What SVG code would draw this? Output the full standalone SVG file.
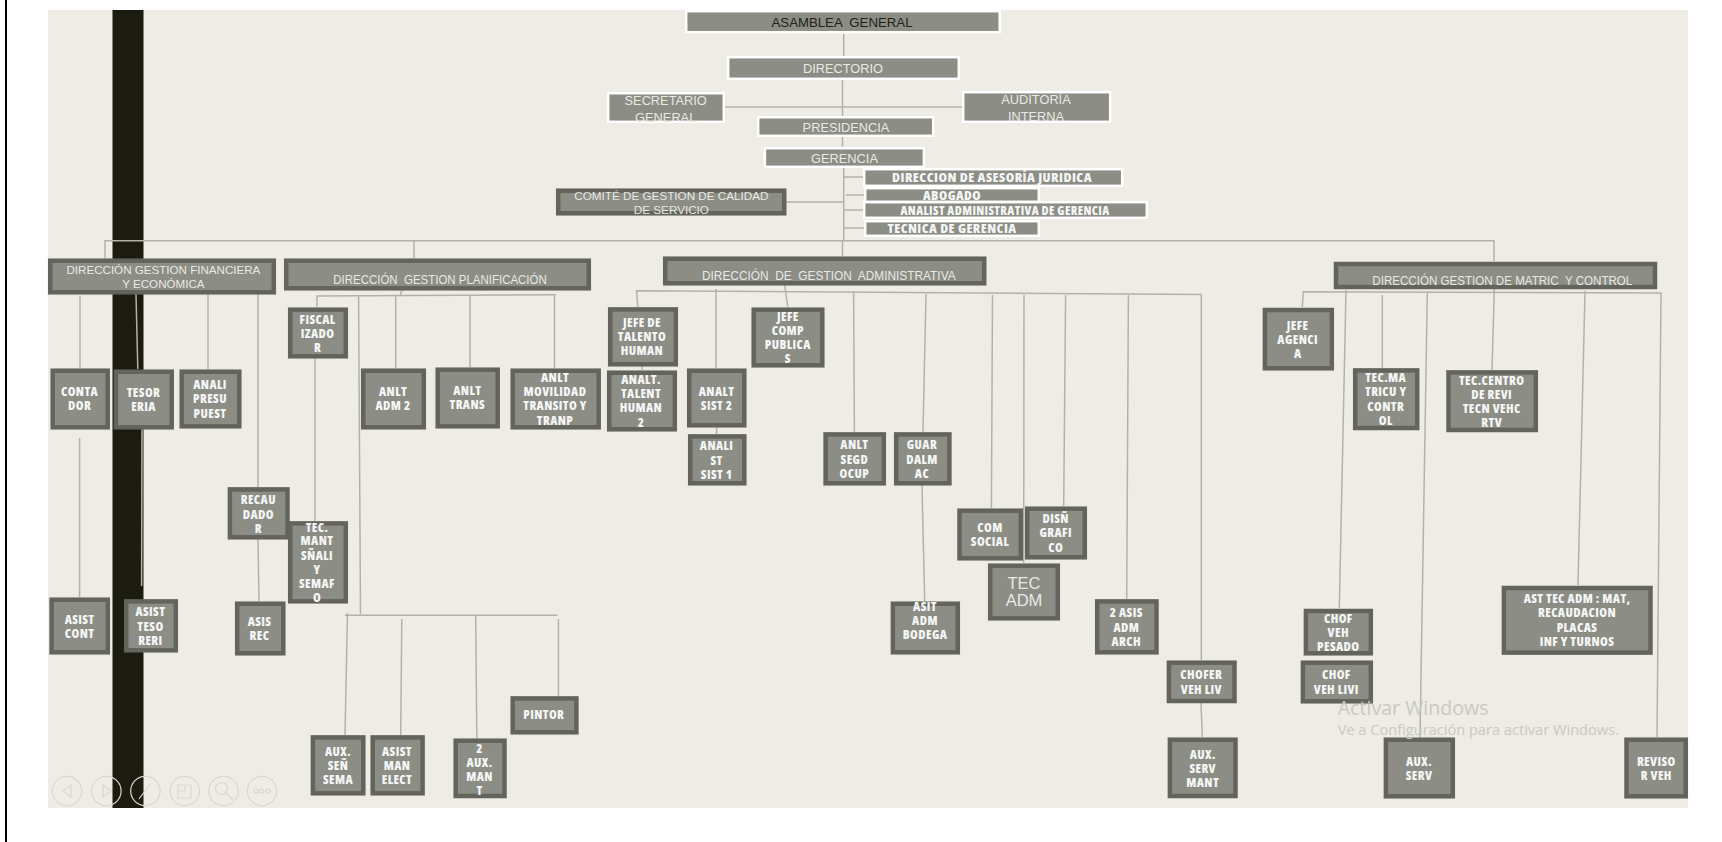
<svg xmlns="http://www.w3.org/2000/svg" width="1722" height="842" viewBox="0 0 1722 842">
<style>
.w{fill:#8c8d84;stroke:#fff;stroke-width:2.5}
.d{fill:#8c8d84;stroke:#63645c;stroke-width:4.5}
text{dominant-baseline:central;text-anchor:middle;white-space:pre}
.l{font-family:"Liberation Sans",Arial,sans-serif;fill:#e9e9e4;font-size:12.8px}
.b{font-family:"Open Sans","Liberation Sans",sans-serif;font-weight:800;font-stretch:75%;fill:#f4f5f5;font-size:12.5px;letter-spacing:.4px}
#conn path{fill:none;stroke:#b2b2aa;stroke-width:1.5}
#ctrl circle,#ctrl path{fill:none;stroke:#d9d8d0;stroke-width:1.2}
.wm{font-family:"Open Sans","Noto Sans",sans-serif;text-anchor:start;fill:#c9c9c3}
</style>
<rect x="5" y="0" width="2" height="842" fill="#000"/>
<rect x="48" y="10" width="1640" height="798" fill="#eeece4"/>
<rect x="112.5" y="10" width="31" height="798" fill="#1b1b0f"/>
<g id="conn">
<path d="M843.7 34V56M842.5 80V116M725 107H962M842.5 137V147M843.7 168V240.7M844 177H863M846 195H864M844 210H863M844 228H864M786 202H844"/>
<path d="M105 258V240.7H1494V261M414 240.7V258M842.5 240.7V256"/>
<path d="M80 296V368M136 294L137.8 369M208 294V369M258 294V487M79.6 438V597M142 429L141.6 586M258 539L259 601"/>
<path d="M402 290L400 296M317 307V296L555.7 294.7M358.6 296L360.5 614M395.7 295V368M470 295V367M554.5 295V368M315 358V521M345 615.3H557.6M347.5 613L345 735M401.8 619L400.7 735M475.7 615L476.8 738M558.4 619V696"/>
<path d="M784.7 285L787.8 307M637.8 307L636.6 290.7L1202 294.5M716 289V368M853.6 291L854.4 432M926 294L923 432M922 485L924.7 601M992.5 295L991.4 508M1024 295L1023.7 563M1065.6 295L1063.7 506M1128.4 294L1126.7 599M1201.3 294V660M1201 703L1202.3 737M642 366V370M716.6 427V434"/>
<path d="M1302.3 307L1303.3 291.7L1661.3 293M1346 290L1339.3 608M1382.3 295V368M1427.3 293L1420 737M1494.3 289L1492 370M1585 291L1578 585M1661 293L1657 737"/>
</g>
<g id="asamblea"><rect class="w" x="686.2" y="11.2" width="313.5" height="21"/><text class="l" x="842" y="22.3" textLength="141" lengthAdjust="spacingAndGlyphs" style="fill:#22221a">ASAMBLEA  GENERAL</text></g>
<g id="directorio"><rect class="w" x="728.2" y="57.2" width="230.6" height="21.6"/><text class="l" x="843" y="68.3">DIRECTORIO</text></g>
<g id="secretario"><rect class="w" x="608.2" y="93.2" width="115.6" height="28.6"/><text class="l"><tspan x="665.7" y="100.3">SECRETARIO</tspan><tspan x="665.7" y="116.7">GENERAL</tspan></text></g>
<g id="auditoria"><rect class="w" x="963.2" y="92.2" width="147" height="29.6"/><text class="l"><tspan x="1036" y="99.3">AUDITORÍA</tspan><tspan x="1036" y="115.7">INTERNA</tspan></text></g>
<g id="presidencia"><rect class="w" x="758.2" y="117.2" width="175" height="18.6"/><text class="l" x="846" y="127">PRESIDENCIA</text></g>
<g id="gerencia"><rect class="w" x="764.9" y="148.2" width="159" height="18.6"/><text class="l" x="844.5" y="158">GERENCIA</text></g>
<g id="asesoria"><rect class="w" x="864.2" y="169.2" width="258" height="16.6"/><text class="b" x="992" y="177.7" textLength="200" lengthAdjust="spacingAndGlyphs">DIRECCION DE ASESORÍA JURIDICA</text></g>
<g id="abogado"><rect class="w" x="865.2" y="188.2" width="173.6" height="13.6"/><text class="b" x="952" y="195.3" textLength="58" lengthAdjust="spacingAndGlyphs">ABOGADO</text></g>
<g id="analist"><rect class="w" x="864.2" y="202.2" width="282.6" height="15.6"/><text class="b" x="1005" y="210" textLength="209" lengthAdjust="spacingAndGlyphs">ANALIST ADMINISTRATIVA DE GERENCIA</text></g>
<g id="tecnica"><rect class="w" x="865.2" y="221.2" width="173.6" height="14.6"/><text class="b" x="952" y="228.3" textLength="129" lengthAdjust="spacingAndGlyphs">TECNICA DE GERENCIA</text></g>
<g id="comite"><rect class="d" x="558.2" y="190.7" width="226" height="22.6"/><text class="l" style="font-size:11.7px"><tspan x="671.4" y="195">COMITÉ DE GESTION DE CALIDAD</tspan><tspan x="671.4" y="209">DE SERVICIO</tspan></text></g>
<g id="dir-fin"><rect class="d" x="50.2" y="260.7" width="223.6" height="31.6"/><text class="l" style="font-size:11.6px"><tspan x="163.4" y="268.7">DIRECCIÓN GESTION FINANCIERA</tspan><tspan x="163.4" y="283">Y ECONÓMICA</tspan></text></g>
<g id="dir-plan"><rect class="d" x="286.2" y="260.7" width="302.6" height="27.6"/><text class="l" x="440" y="279" textLength="213.5" lengthAdjust="spacingAndGlyphs">DIRECCIÓN  GESTION PLANIFICACIÓN</text></g>
<g id="dir-adm"><rect class="d" x="665.2" y="258.7" width="319" height="24.6"/><text class="l" x="828.8" y="275.7" textLength="253.7" lengthAdjust="spacingAndGlyphs">DIRECCIÓN  DE  GESTION  ADMINISTRATIVA</text></g>
<g id="dir-mat"><rect class="d" x="1336" y="264" width="319" height="23"/><text class="l" x="1502.3" y="280" textLength="260" lengthAdjust="spacingAndGlyphs">DIRECCIÓN GESTION DE MATRIC  Y CONTROL</text></g>
<g id="contador"><rect class="d" x="52.7" y="370.7" width="55" height="56.6"/><text class="b"><tspan x="79.6" y="391.3">CONTA</tspan><tspan x="79.6" y="405.3">DOR</tspan></text></g>
<g id="tesoreria"><rect class="d" x="115.9" y="371.7" width="55.8" height="55.6"/><text class="b"><tspan x="143.5" y="392">TESOR</tspan><tspan x="143.5" y="406">ERIA</tspan></text></g>
<g id="anali-presu"><rect class="d" x="181.7" y="371.7" width="57.6" height="54.6"/><text class="b"><tspan x="210" y="384">ANALI</tspan><tspan x="210" y="398">PRESU</tspan><tspan x="210" y="412.7">PUEST</tspan></text></g>
<g id="fiscalizador"><rect class="d" x="290.2" y="309.7" width="55.6" height="46.6"/><text class="b"><tspan x="317.6" y="318.7">FISCAL</tspan><tspan x="317.6" y="333">IZADO</tspan><tspan x="317.6" y="347">R</tspan></text></g>
<g id="anlt-adm2"><rect class="d" x="363.2" y="370.7" width="60.6" height="56.6"/><text class="b"><tspan x="393" y="391">ANLT</tspan><tspan x="393" y="405.3">ADM 2</tspan></text></g>
<g id="anlt-trans"><rect class="d" x="437.7" y="369.7" width="60" height="56.6"/><text class="b"><tspan x="467.3" y="390.3">ANLT</tspan><tspan x="467.3" y="404.3">TRANS</tspan></text></g>
<g id="anlt-mov"><rect class="d" x="512.7" y="370.7" width="86" height="56.6"/><text class="b"><tspan x="555" y="377">ANLT</tspan><tspan x="555" y="391">MOVILIDAD</tspan><tspan x="555" y="405">TRANSITO Y</tspan><tspan x="555" y="419.7">TRANP</tspan></text></g>
<g id="recaudador"><rect class="d" x="229.9" y="489.4" width="57.6" height="47.9"/><text class="b"><tspan x="258.3" y="499.3">RECAU</tspan><tspan x="258.3" y="513.7">DADO</tspan><tspan x="258.3" y="528">R</tspan></text></g>
<g id="tec-mant"><rect class="d" x="290.2" y="523.4" width="55.6" height="77.9"/><text class="b"><tspan x="317" y="526.7">TEC.</tspan><tspan x="317" y="540.3">MANT</tspan><tspan x="317" y="554.7">SÑALI</tspan><tspan x="317" y="569">Y</tspan><tspan x="317" y="583">SEMAF</tspan><tspan x="317" y="597">O</tspan></text></g>
<g id="asist-cont"><rect class="d" x="51.6" y="599.7" width="56.2" height="52.6"/><text class="b"><tspan x="79.6" y="618.7">ASIST</tspan><tspan x="79.6" y="632.7">CONT</tspan></text></g>
<g id="asist-teso"><rect class="d" x="126.2" y="601.4" width="49.6" height="48.9"/><text class="b"><tspan x="150.4" y="611.3">ASIST</tspan><tspan x="150.4" y="625.7">TESO</tspan><tspan x="150.4" y="640">RERI</tspan></text></g>
<g id="asis-rec"><rect class="d" x="237.2" y="603.7" width="46.1" height="49.6"/><text class="b"><tspan x="259.5" y="621">ASIS</tspan><tspan x="259.5" y="635">REC</tspan></text></g>
<g id="aux-sen"><rect class="d" x="312.9" y="737.4" width="50.4" height="55.9"/><text class="b"><tspan x="338" y="751">AUX.</tspan><tspan x="338" y="765">SEÑ</tspan><tspan x="338" y="779">SEMA</tspan></text></g>
<g id="asist-man"><rect class="d" x="372.7" y="737.4" width="49.9" height="55.9"/><text class="b"><tspan x="397" y="751">ASIST</tspan><tspan x="397" y="765">MAN</tspan><tspan x="397" y="779">ELECT</tspan></text></g>
<g id="aux-man"><rect class="d" x="455.7" y="740.7" width="48.8" height="55.3"/><text class="b"><tspan x="479.5" y="747.7">2</tspan><tspan x="479.5" y="762">AUX.</tspan><tspan x="479.5" y="776">MAN</tspan><tspan x="479.5" y="790">T</tspan></text></g>
<g id="pintor"><rect class="d" x="512.7" y="698.4" width="63.7" height="33.9"/><text class="b" x="543.8" y="714.3">PINTOR</text></g>
<g id="jefe-talento"><rect class="d" x="610.2" y="309.4" width="65.6" height="54.9"/><text class="b"><tspan x="642" y="322">JEFE DE</tspan><tspan x="642" y="336">TALENTO</tspan><tspan x="642" y="350.3">HUMAN</tspan></text></g>
<g id="analt-talent"><rect class="d" x="609.2" y="372.7" width="65.6" height="56.6"/><text class="b"><tspan x="641" y="379">ANALT.</tspan><tspan x="641" y="393">TALENT</tspan><tspan x="641" y="407.3">HUMAN</tspan><tspan x="641" y="421.7">2</tspan></text></g>
<g id="analt-sist2"><rect class="d" x="689.2" y="370.7" width="55.1" height="54.6"/><text class="b"><tspan x="716.6" y="391.3">ANALT</tspan><tspan x="716.6" y="405.3">SIST 2</tspan></text></g>
<g id="analist-sist1"><rect class="d" x="690.2" y="436.4" width="54.1" height="46.9"/><text class="b"><tspan x="716.6" y="445.3">ANALI</tspan><tspan x="716.6" y="459.7">ST</tspan><tspan x="716.6" y="474">SIST 1</tspan></text></g>
<g id="jefe-comp"><rect class="d" x="753.7" y="309.7" width="68.6" height="55.6"/><text class="b"><tspan x="787.8" y="315.7">JEFE</tspan><tspan x="787.8" y="330">COMP</tspan><tspan x="787.8" y="344">PUBLICA</tspan><tspan x="787.8" y="358.3">S</tspan></text></g>
<g id="anlt-segd"><rect class="d" x="825.6" y="434.4" width="58.2" height="48.9"/><text class="b"><tspan x="854.4" y="444.3">ANLT</tspan><tspan x="854.4" y="458.7">SEGD</tspan><tspan x="854.4" y="473">OCUP</tspan></text></g>
<g id="guardalmac"><rect class="d" x="896.2" y="434.4" width="53.2" height="48.9"/><text class="b"><tspan x="922" y="444.3">GUAR</tspan><tspan x="922" y="458.7">DALM</tspan><tspan x="922" y="473">AC</tspan></text></g>
<g id="com-social"><rect class="d" x="959.5" y="510.7" width="61.3" height="47.6"/><text class="b"><tspan x="990" y="527">COM</tspan><tspan x="990" y="541">SOCIAL</tspan></text></g>
<g id="disn-grafico"><rect class="d" x="1027.2" y="508.7" width="57.6" height="48.6"/><text class="b"><tspan x="1055.7" y="518">DISÑ</tspan><tspan x="1055.7" y="532.3">GRAFI</tspan><tspan x="1055.7" y="546.7">CO</tspan></text></g>
<g id="tec-adm"><rect class="d" x="990.2" y="565.7" width="67.6" height="52.6"/><text class="l" style="font-size:16.5px"><tspan x="1024" y="582.7">TEC</tspan><tspan x="1024" y="600.3">ADM</tspan></text></g>
<g id="asit-bodega"><rect class="d" x="892.9" y="603.7" width="64.9" height="48.6"/><text class="b"><tspan x="925" y="606">ASIT</tspan><tspan x="925" y="620.3">ADM</tspan><tspan x="925" y="634.3">BODEGA</tspan></text></g>
<g id="asis-arch"><rect class="d" x="1097.2" y="601.4" width="59.3" height="50.9"/><text class="b"><tspan x="1126.3" y="612.3">2 ASIS</tspan><tspan x="1126.3" y="626.7">ADM</tspan><tspan x="1126.3" y="641">ARCH</tspan></text></g>
<g id="chofer-liv"><rect class="d" x="1168.9" y="662.7" width="65.6" height="38.3"/><text class="b"><tspan x="1201.3" y="674.3">CHOFER</tspan><tspan x="1201.3" y="688.7">VEH LIV</tspan></text></g>
<g id="aux-serv-mant"><rect class="d" x="1169.9" y="739.7" width="65.6" height="56.3"/><text class="b"><tspan x="1202.7" y="753.7">AUX.</tspan><tspan x="1202.7" y="768">SERV</tspan><tspan x="1202.7" y="782">MANT</tspan></text></g>
<g id="jefe-agencia"><rect class="d" x="1264.9" y="310" width="66.9" height="58.3"/><text class="b"><tspan x="1297.7" y="324.7">JEFE</tspan><tspan x="1297.7" y="339">AGENCI</tspan><tspan x="1297.7" y="353.3">A</tspan></text></g>
<g id="tec-matricu"><rect class="d" x="1355.2" y="370.4" width="62" height="57.6"/><text class="b"><tspan x="1385.7" y="377">TEC.MA</tspan><tspan x="1385.7" y="391.3">TRICU Y</tspan><tspan x="1385.7" y="405.7">CONTR</tspan><tspan x="1385.7" y="419.7">OL</tspan></text></g>
<g id="tec-centro"><rect class="d" x="1448.5" y="372.4" width="87.3" height="57.6"/><text class="b"><tspan x="1491.7" y="379.7">TEC.CENTRO</tspan><tspan x="1491.7" y="394">DE REVI</tspan><tspan x="1491.7" y="408">TECN VEHC</tspan><tspan x="1491.7" y="422.3">RTV</tspan></text></g>
<g id="chof-pesado"><rect class="d" x="1305.9" y="611" width="64.9" height="42.3"/><text class="b"><tspan x="1338.3" y="617.7">CHOF</tspan><tspan x="1338.3" y="632">VEH</tspan><tspan x="1338.3" y="646">PESADO</tspan></text></g>
<g id="chof-livi"><rect class="d" x="1302.9" y="662.7" width="67.9" height="38.6"/><text class="b"><tspan x="1336.3" y="674.3">CHOF</tspan><tspan x="1336.3" y="688.7">VEH LIVI</tspan></text></g>
<g id="ast-tec"><rect class="d" x="1503.9" y="588" width="146.6" height="64.6"/><text class="b"><tspan x="1577" y="598">AST TEC ADM : MAT,</tspan><tspan x="1577" y="612.3">RECAUDACION</tspan><tspan x="1577" y="626.7">PLACAS</tspan><tspan x="1577" y="640.7">INF Y TURNOS</tspan></text></g>
<g id="aux-serv"><rect class="d" x="1385.9" y="739.7" width="66.9" height="56.6"/><text class="b"><tspan x="1419" y="760.7">AUX.</tspan><tspan x="1419" y="774.7">SERV</tspan></text></g>
<g id="revisor"><rect class="d" x="1626.5" y="739.7" width="59.3" height="56.6"/><text class="b"><tspan x="1656.3" y="760.7">REVISO</tspan><tspan x="1656.3" y="774.7">R VEH</tspan></text></g>
<text class="wm" x="1337.7" y="707" style="font-size:19.6px">Activar Windows</text>
<text class="wm" x="1337.7" y="728.5" style="font-size:14.6px">Ve a Configuración para activar Windows.</text>
<g id="ctrl">
<circle cx="67" cy="791" r="14.7"/><circle cx="106.4" cy="791" r="14.7"/><circle cx="145.4" cy="791" r="14.7"/><circle cx="184.8" cy="791" r="14.7"/><circle cx="223.5" cy="791" r="14.7"/><circle cx="262" cy="791" r="14.7"/>
<path d="M71 785L63 791L71 797ZM103 785L111 791L103 797ZM139 799L151 783M178 785H191V798H178ZM178 791H185V785M226 793L233 800"/>
<circle cx="221.5" cy="788.5" r="6"/>
<circle cx="256" cy="791" r="2"/><circle cx="262" cy="791" r="2"/><circle cx="268" cy="791" r="2"/>
</g>
</svg>
